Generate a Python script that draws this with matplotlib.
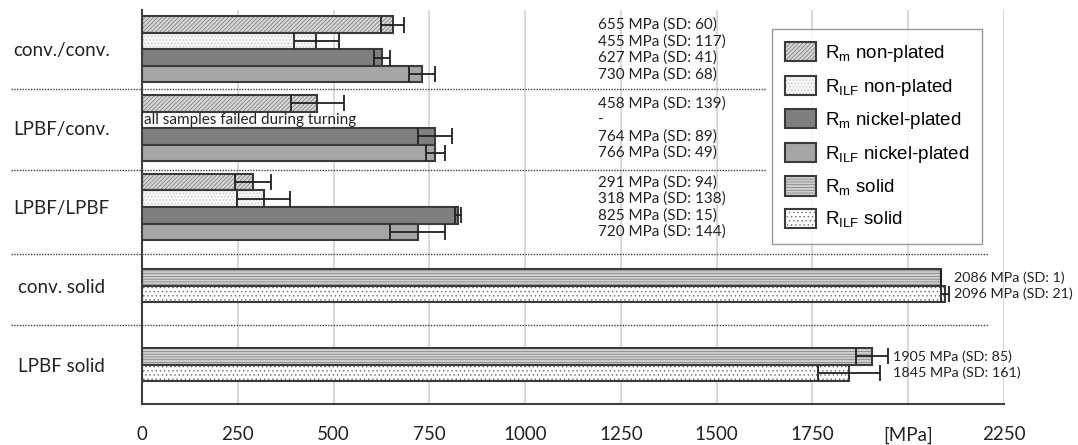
import numpy as np
import matplotlib
matplotlib.use("Agg")
import matplotlib.pyplot as plt
from matplotlib.patches import Patch
from matplotlib.legend_handler import HandlerTuple

plt.rcParams['hatch.linewidth'] = 0.5
plt.rcParams['mathtext.fontset'] = 'custom'
plt.rcParams['mathtext.rm'] = 'Liberation Sans'

# ---------------- data ----------------
categories = ['conv./conv.', 'LPBF/conv.', 'LPBF/LPBF', 'conv. solid', 'LPBF solid']
series_names = [r'R$_\mathregular{m}$ non-plated', r'R$_\mathregular{ILF}$ non-plated',
                r'R$_\mathregular{m}$ nickel-plated', r'R$_\mathregular{ILF}$ nickel-plated',
                r'R$_\mathregular{m}$ solid', r'R$_\mathregular{ILF}$ solid']
nan = np.nan
rm_nonplated = [655, 458, 291, nan, nan]
rm_nonplated_sd = [60, 139, 94, nan, nan]
rilf_nonplated = [455, nan, 318, nan, nan]
rilf_nonplated_sd = [117, nan, 138, nan, nan]
rm_nickel = [627, 764, 825, nan, nan]
rm_nickel_sd = [41, 89, 15, nan, nan]
rilf_nickel = [730, 766, 720, nan, nan]
rilf_nickel_sd = [68, 49, 144, nan, nan]
rm_solid = [nan, nan, nan, 2086, 1905]
rm_solid_sd = [nan, nan, nan, 1, 85]
rilf_solid = [nan, nan, nan, 2096, 1845]
rilf_solid_sd = [nan, nan, nan, 21, 161]
failed_note = 'all samples failed during turning'
xticks = [0, 250, 500, 750, 1000, 1250, 1500, 1750, 2000, 2250]
xtick_labels = ['0', '250', '500', '750', '1000', '1250', '1500', '1750', '[MPa]', '2250']

values = [rm_nonplated, rilf_nonplated, rm_nickel, rilf_nickel, rm_solid, rilf_solid]
sds = [rm_nonplated_sd, rilf_nonplated_sd, rm_nickel_sd, rilf_nickel_sd, rm_solid_sd, rilf_solid_sd]

# ---------------- styles ----------------
slots = [0, 1, 2, 3, 1, 2]
bar_h = 0.21
face = ['#d6d6d6', '#f6f6f6', '#7f7f7f', '#a6a6a6', '#cfcfcf', '#ffffff']
hatches = ['////////', '.....', None, None, '------', '....']
hcolors = ['#757575', '#c4c4c4', None, None, '#7a7a7a', '#6a6a6a']
edge = '#3a3a3a'
lab_font = 'Lato'

fig = plt.figure(figsize=(10.78, 4.45), dpi=100)
ax = fig.add_axes([142/1078, 41/445, 862/1078, 394/445])
ax.set_xlim(0, 2250)
ax.set_ylim(4.5, -0.5)

for x in xticks[1:]:
    ax.axvline(x, color='#d9d9d9', lw=1.5, zorder=0)

ypos = np.arange(len(categories))
handles = []
for i in range(6):
    vals = np.array(values[i], dtype=float)
    sd = np.array(sds[i], dtype=float)
    y = ypos + (slots[i] - 1.5) * bar_h
    m = ~np.isnan(vals)
    if hatches[i]:
        ax.barh(y[m], vals[m], height=bar_h, color=face[i], hatch=hatches[i],
                edgecolor=hcolors[i], lw=0, zorder=2)
        ax.barh(y[m], vals[m], height=bar_h, fill=False, edgecolor=edge, lw=1.5, zorder=3)
        h = (Patch(facecolor=face[i], hatch=hatches[i], edgecolor=hcolors[i], lw=0),
             Patch(fill=False, edgecolor=edge, lw=1.5))
    else:
        ax.barh(y[m], vals[m], height=bar_h, color=face[i], edgecolor=edge, lw=1.5, zorder=3)
        h = Patch(facecolor=face[i], edgecolor=edge, lw=1.5)
    handles.append(h)
    ax.errorbar(vals[m], y[m], xerr=sd[m] / 2, fmt='none', ecolor='#202020',
                elinewidth=1.3, capsize=6, capthick=1.3, zorder=4)
    for j in range(len(categories)):
        if i < 4 and j < 3:
            txt = '-' if np.isnan(vals[j]) else f'{int(vals[j])} MPa (SD: {int(sd[j])})'
            ax.text(1190, y[j], txt, ha='left', va='center', fontsize=11,
                    family=lab_font, color='#222222', clip_on=False)
        elif i >= 4 and not np.isnan(vals[j]):
            grp_max = max(values[4][j] + sds[4][j] / 2, values[5][j] + sds[5][j] / 2)
            ax.annotate(f'{int(vals[j])} MPa (SD: {int(sd[j])})', (grp_max, y[j]),
                        xytext=(3.5, 0), textcoords='offset points', ha='left', va='center',
                        fontsize=10.3, family=lab_font, color='#222222', annotation_clip=False)

# note for missing bar
ax.text(5, 1 + (1 - 1.5) * bar_h, failed_note, ha='left', va='center', fontsize=11,
        family=lab_font, color='#222222')

# separators
sep_y = [0.5, 1.53, 2.6, 3.5]
sep_x1 = [1629, 1629, 2208, 2208]
for sy, sx in zip(sep_y, sep_x1):
    ax.plot([-342, sx], [sy, sy], color='#404040', lw=1.0, ls=(0, (1, 1)),
            clip_on=False, zorder=1)

ax.set_yticks(ypos)
ax.set_yticklabels(categories, ha='center', fontsize=13.5, family=lab_font, color='#222222')
ax.tick_params(axis='y', length=0, pad=58)
ax.set_xticks(xticks)
ax.set_xticklabels(xtick_labels, fontsize=13.5, family=lab_font, color='#222222')
ax.tick_params(axis='x', length=0, pad=16)

for s in ['top', 'right']:
    ax.spines[s].set_visible(False)
for s in ['left', 'bottom']:
    ax.spines[s].set_color('#404040')
    ax.spines[s].set_linewidth(1.5)

leg = ax.legend(handles, series_names, loc='upper left', bbox_to_anchor=(0.731, 0.952),
                borderaxespad=0,
                prop={'family': 'Liberation Sans', 'size': 13.5}, frameon=True,
                fancybox=False, edgecolor='#808080', handlelength=1.65, handleheight=1.2,
                handletextpad=0.45, labelspacing=0.62, borderpad=0.7,
                handler_map={tuple: HandlerTuple(ndivide=1)})
leg.get_frame().set_linewidth(1.0)
leg.set_zorder(5)

fig.savefig('out.png', dpi=100)
